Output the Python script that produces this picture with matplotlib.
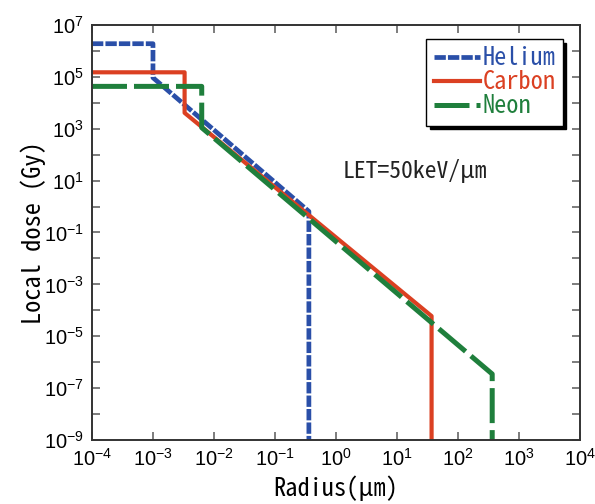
import numpy as np
import matplotlib
matplotlib.use("Agg")
from matplotlib import pyplot as plt

# fonts: condensed japanese-ish look for texts, arial-like for tick numbers
plt.rcParams['font.family'] = ['Noto Sans Mono CJK JP', 'Noto Sans CJK JP', 'DejaVu Sans']
plt.rcParams['mathtext.fontset'] = 'custom'
plt.rcParams['mathtext.rm'] = 'Liberation Sans'
plt.rcParams['mathtext.it'] = 'Liberation Sans:italic'
plt.rcParams['mathtext.bf'] = 'Liberation Sans:bold'

# radius (um) and local dose (Gy)
he_r = [1e-4, 1e-3, 1e-3, 0.36, 0.36]
he_dose = [1.9e6, 1.9e6, 9.3e4, 0.65, 1e-10]
c_r = [1e-4, 3.3e-3, 3.3e-3, 37, 37]
c_dose = [1.5e5, 1.5e5, 4.1e3, 6e-5, 1e-10]
ne_r = [1e-4, 6.3e-3, 6.3e-3, 365, 365]
ne_dose = [4.3e4, 4.3e4, 1.1e3, 3.5e-7, 1e-10]

xdec = np.arange(-4, 5)
ydec = np.arange(-9, 8)

fig = plt.figure(figsize=(5.95, 5.04), dpi=100)
ax = fig.add_axes([0.1546, 0.127, 0.82, 0.8234])

ax.plot(he_r, he_dose, color='#2a4fa8', lw=3.4, dashes=(2.4, 0.45), label='Helium')
ax.plot(c_r, c_dose, color='#db4022', lw=3.0, label='Carbon')
ax.plot(ne_r, ne_dose, color='#1f7f3c', lw=3.6, dashes=(7, 1.4), label='Neon')

ax.set_xscale('log')
ax.set_yscale('log')
ax.set_xlim(1e-4, 1e4)
ax.set_ylim(1e-9, 1e7)

ax.set_xticks(10.0 ** xdec)
ax.set_xticklabels(['$10^{%d}$' % d for d in xdec])
ax.set_yticks(10.0 ** ydec)
ax.set_yticklabels(['$10^{%d}$' % d if d % 2 else '' for d in ydec])
ax.minorticks_off()
ax.tick_params(which='major', direction='in', length=6, width=1.2, color='#666666',
               top=True, right=True, labelsize=14.5, pad=6)
for s in ax.spines.values():
    s.set_linewidth(1.4)
    s.set_color('#333333')

ax.set_xlabel('Radius(μm)', fontsize=17.5, labelpad=4)
ax.set_ylabel('Local dose (Gy)', fontsize=17.5, labelpad=-2)

ax.text(0.514, 0.648, 'LET=50keV/μm', transform=ax.transAxes, fontsize=17,
        va='center', ha='left', color='#222222')

leg = ax.legend(loc='upper right', bbox_to_anchor=(0.965, 0.966), fontsize=17.5,
                frameon=True, fancybox=False, handlelength=1.9, handletextpad=0.1,
                labelspacing=0.0, borderpad=0.3, borderaxespad=0,
                shadow={'color': 'black', 'alpha': 1, 'ox': 2.5, 'oy': -2.5})
leg.get_frame().set_edgecolor('black')
leg.get_frame().set_linewidth(1.0)
for t, line in zip(leg.get_texts(), leg.get_lines()):
    t.set_color(line.get_color())

plt.savefig('out.png', dpi=100)
